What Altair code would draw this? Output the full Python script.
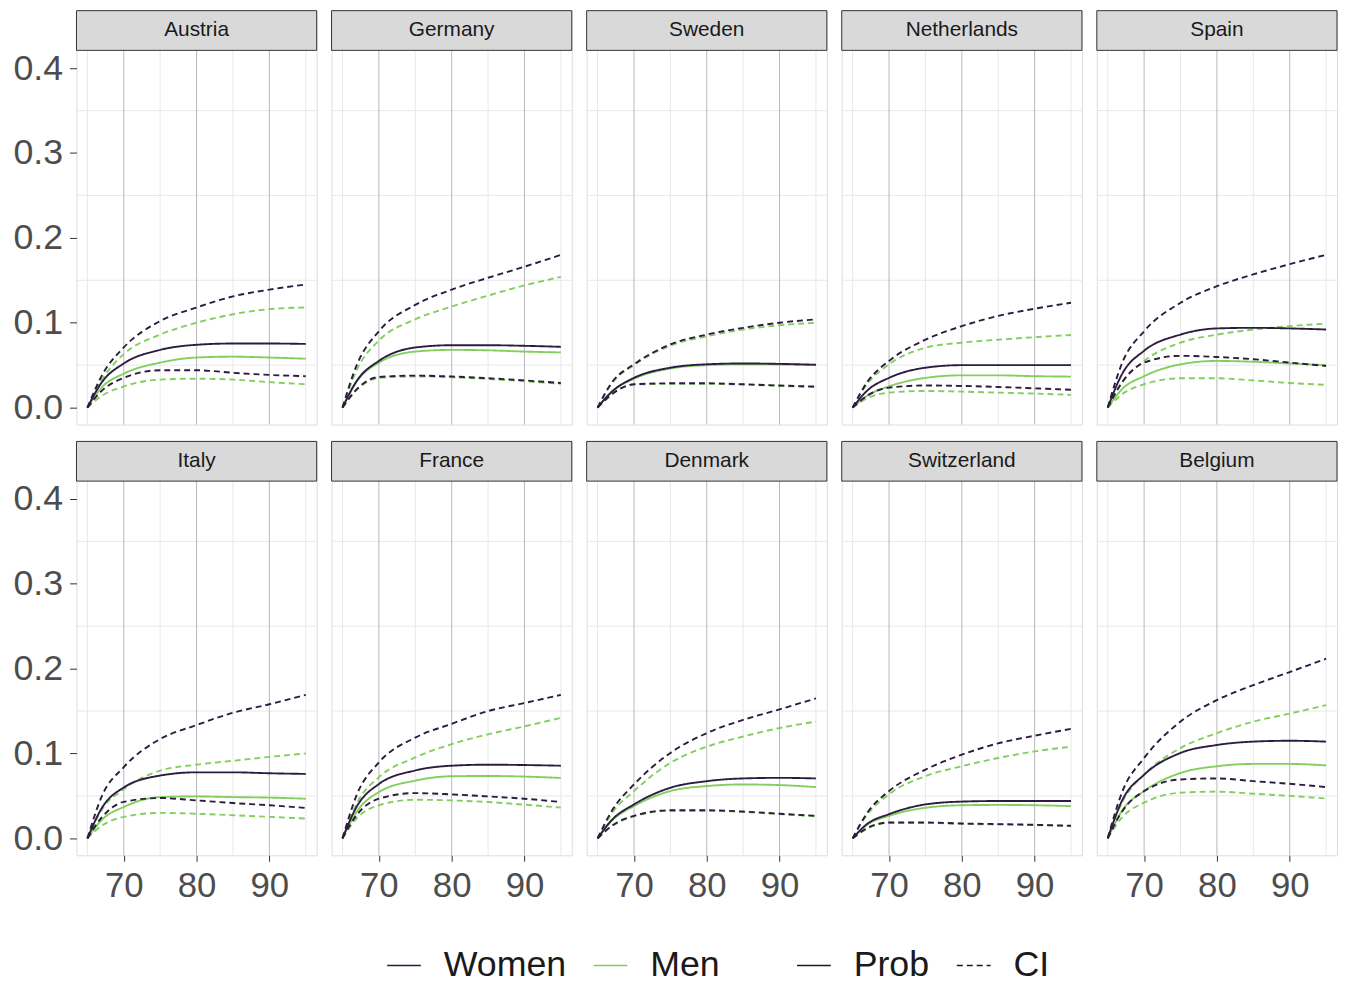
import altair as alt
import pandas as pd

# ---------------- data ----------------
AGES = [65, 67, 70, 75, 80, 85, 90, 95]
COUNTRIES = ["Austria", "Germany", "Sweden", "Netherlands", "Spain",
             "Italy", "France", "Denmark", "Switzerland", "Belgium"]

WOMEN_PROB = {
    "Austria":     [0, 0.030, 0.052, 0.068, 0.074, 0.0755, 0.0755, 0.075],
    "Germany":     [0, 0.032, 0.055, 0.0708, 0.0735, 0.0735, 0.0728, 0.0716],
    "Sweden":      [0, 0.019, 0.035, 0.047, 0.051, 0.052, 0.0515, 0.0505],
    "Netherlands": [0, 0.020, 0.035, 0.047, 0.050, 0.050, 0.050, 0.050],
    "Spain":       [0, 0.040, 0.067, 0.086, 0.0933, 0.094, 0.0933, 0.092],
    "Italy":       [0, 0.036, 0.060, 0.074, 0.0778, 0.0778, 0.0767, 0.0759],
    "France":      [0, 0.038, 0.064, 0.080, 0.0856, 0.0868, 0.0864, 0.0856],
    "Denmark":     [0, 0.022, 0.040, 0.0596, 0.0674, 0.0706, 0.0713, 0.0706],
    "Switzerland": [0, 0.017, 0.0285, 0.040, 0.0433, 0.044, 0.044, 0.044],
    "Belgium":     [0, 0.045, 0.075, 0.1006, 0.110, 0.114, 0.115, 0.114],
}
WOMEN_LO = {
    "Austria":     [0, 0.020, 0.035, 0.044, 0.044, 0.041, 0.0385, 0.037],
    "Germany":     [0, 0.022, 0.036, 0.0377, 0.0366, 0.0346, 0.032, 0.029],
    "Sweden":      [0, 0.016, 0.0275, 0.0286, 0.0286, 0.0275, 0.026, 0.0247],
    "Netherlands": [0, 0.014, 0.0235, 0.026, 0.0255, 0.0243, 0.0227, 0.021],
    "Spain":       [0, 0.030, 0.053, 0.061, 0.0596, 0.057, 0.053, 0.049],
    "Italy":       [0, 0.025, 0.043, 0.0475, 0.0447, 0.0416, 0.039, 0.0358],
    "France":      [0, 0.028, 0.0467, 0.0533, 0.0518, 0.0494, 0.0467, 0.0428],
    "Denmark":     [0, 0.015, 0.0265, 0.0331, 0.0331, 0.0316, 0.029, 0.0265],
    "Switzerland": [0, 0.012, 0.0187, 0.0187, 0.0175, 0.0168, 0.016, 0.0148],
    "Belgium":     [0, 0.032, 0.0557, 0.0694, 0.0706, 0.0674, 0.0643, 0.0604],
}
WOMEN_HI = {
    "Austria":     [0, 0.038, 0.071, 0.102, 0.118, 0.131, 0.139, 0.145],
    "Germany":     [0, 0.051, 0.090, 0.121, 0.139, 0.153, 0.166, 0.180],
    "Sweden":      [0, 0.030, 0.051, 0.0745, 0.086, 0.094, 0.100, 0.104],
    "Netherlands": [0, 0.030, 0.055, 0.080, 0.096, 0.108, 0.1165, 0.1235],
    "Spain":       [0, 0.053, 0.090, 0.1235, 0.143, 0.157, 0.169, 0.180],
    "Italy":       [0, 0.050, 0.084, 0.117, 0.1335, 0.148, 0.158, 0.169],
    "France":      [0, 0.052, 0.0895, 0.1187, 0.135, 0.150, 0.1595, 0.169],
    "Denmark":     [0, 0.033, 0.0635, 0.1006, 0.124, 0.1396, 0.152, 0.165],
    "Switzerland": [0, 0.030, 0.0557, 0.081, 0.0986, 0.112, 0.121, 0.129],
    "Belgium":     [0, 0.055, 0.0947, 0.1376, 0.163, 0.1805, 0.196, 0.2117],
}
MEN_PROB = {
    "Austria":     [0, 0.024, 0.040, 0.053, 0.059, 0.060, 0.059, 0.0576],
    "Germany":     [0, 0.031, 0.053, 0.066, 0.068, 0.0675, 0.066, 0.065],
    "Sweden":      [0, 0.019, 0.034, 0.046, 0.050, 0.051, 0.0508, 0.050],
    "Netherlands": [0, 0.014, 0.025, 0.035, 0.038, 0.038, 0.037, 0.0365],
    "Spain":       [0, 0.022, 0.037, 0.051, 0.055, 0.054, 0.052, 0.050],
    "Italy":       [0, 0.022, 0.037, 0.0486, 0.0494, 0.0486, 0.048, 0.0467],
    "France":      [0, 0.032, 0.0545, 0.068, 0.0732, 0.0735, 0.0728, 0.0712],
    "Denmark":     [0, 0.021, 0.038, 0.0557, 0.0616, 0.0635, 0.0628, 0.0604],
    "Switzerland": [0, 0.016, 0.0265, 0.036, 0.039, 0.0394, 0.039, 0.038],
    "Belgium":     [0, 0.033, 0.0557, 0.077, 0.085, 0.0877, 0.0877, 0.086],
}
MEN_LO = {
    "Austria":     [0, 0.014, 0.025, 0.033, 0.034, 0.033, 0.030, 0.0275],
    "Germany":     [0, 0.021, 0.035, 0.0367, 0.0356, 0.0336, 0.031, 0.028],
    "Sweden":      [0, 0.016, 0.027, 0.028, 0.028, 0.027, 0.0255, 0.0242],
    "Netherlands": [0, 0.011, 0.0176, 0.0196, 0.0188, 0.0176, 0.0165, 0.015],
    "Spain":       [0, 0.016, 0.0275, 0.0345, 0.0345, 0.032, 0.029, 0.0267],
    "Italy":       [0, 0.015, 0.0253, 0.030, 0.029, 0.0272, 0.0253, 0.0233],
    "France":      [0, 0.024, 0.039, 0.0455, 0.0447, 0.0428, 0.0397, 0.0362],
    "Denmark":     [0, 0.0145, 0.026, 0.0325, 0.0325, 0.031, 0.0285, 0.026],
    "Switzerland": [0, 0.0115, 0.0182, 0.0182, 0.017, 0.0163, 0.0155, 0.0143],
    "Belgium":     [0, 0.025, 0.042, 0.0538, 0.055, 0.0526, 0.050, 0.047],
}
MEN_HI = {
    "Austria":     [0, 0.033, 0.063, 0.086, 0.100, 0.110, 0.116, 0.118],
    "Germany":     [0, 0.045, 0.079, 0.104, 0.119, 0.132, 0.144, 0.154],
    "Sweden":      [0, 0.029, 0.050, 0.073, 0.084, 0.092, 0.097, 0.100],
    "Netherlands": [0, 0.028, 0.051, 0.0705, 0.0765, 0.080, 0.083, 0.0855],
    "Spain":       [0, 0.030, 0.055, 0.0765, 0.086, 0.092, 0.096, 0.099],
    "Italy":       [0, 0.034, 0.058, 0.0798, 0.0868, 0.0914, 0.096, 0.100],
    "France":      [0, 0.042, 0.072, 0.0953, 0.111, 0.1226, 0.132, 0.142],
    "Denmark":     [0, 0.030, 0.0557, 0.089, 0.108, 0.120, 0.130, 0.1376],
    "Switzerland": [0, 0.028, 0.052, 0.0733, 0.085, 0.0947, 0.1025, 0.108],
    "Belgium":     [0, 0.043, 0.075, 0.1064, 0.124, 0.1376, 0.147, 0.157],
}

X_MAJOR = [70, 80, 90]
X_MINOR = [65, 75, 85, 95]
Y_TICKS = [0.0, 0.1, 0.2, 0.3, 0.4]
Y_MINOR = [0.05, 0.15, 0.25, 0.35]
SEXES = ["Women", "Men"]
KINDS = ["Prob", "CI"]

# ---------------- styling ----------------
COLORS = ["#2d1b40", "#82cf5e"]
DASHES = [[1, 0], [6, 4]]
FONT = "Liberation Sans"
W = 242
H_PLOT = 377
STRIP = 40
H = H_PLOT + STRIP
X_DOMAIN = [63.5, 96.5]
Y_LO, Y_TOP = -0.02, 0.421
Y_HI = Y_LO + (Y_TOP - Y_LO) * H / H_PLOT


def long_table(country):
    rows = []
    for sex, parts in (("Men", (("lo", MEN_LO), ("hi", MEN_HI), ("prob", MEN_PROB))),
                       ("Women", (("lo", WOMEN_LO), ("hi", WOMEN_HI), ("prob", WOMEN_PROB)))):
        for key, src in parts:
            kind = "Prob" if key == "prob" else "CI"
            for a, v in zip(AGES, src[country]):
                rows.append({"age": a, "value": v, "sex": sex, "kind": kind,
                             "series": sex + "-" + key})
    return pd.DataFrame(rows)


def legend(x, extra=None):
    opts = dict(title=None, orient="none", direction="horizontal",
                legendX=x, legendY=944, symbolType="stroke", symbolSize=1156,
                symbolStrokeWidth=1.5, labelFontSize=36, labelFont=FONT,
                labelColor="#1a1a1a", labelOffset=22, columnPadding=24)
    if extra:
        opts.update(extra)
    return alt.Legend(**opts)


def panel(i, country):
    show_y = i % 5 == 0
    show_x = i >= 5
    xs = alt.Scale(domain=X_DOMAIN, nice=False, zero=False)
    ys = alt.Scale(domain=[Y_LO, Y_HI], nice=False, zero=False)
    if show_x:
        xax = alt.Axis(values=X_MAJOR, grid=False, domain=False, title=None,
                       labelFontSize=35, labelColor="#4d4d4d", labelFont=FONT,
                       tickColor="#333333", tickSize=6, labelPadding=7,
                       labelFlush=False, format="d")
    else:
        xax = None
    if show_y:
        yax = alt.Axis(values=Y_TICKS, grid=False, domain=False, title=None,
                       labelFontSize=36, labelColor="#4d4d4d", labelFont=FONT,
                       tickColor="#333333", tickSize=7, labelPadding=7,
                       labelFlush=False, format=".1f")
    else:
        yax = None

    vminor = alt.Chart(pd.DataFrame({"age": X_MINOR})).mark_rule(
        color="#e8e8e8", strokeWidth=1).encode(x=alt.X("age:Q", scale=xs, axis=xax))
    hminor = alt.Chart(pd.DataFrame({"value": Y_MINOR})).mark_rule(
        color="#e8e8e8", strokeWidth=1).encode(y=alt.Y("value:Q", scale=ys, axis=yax))
    vmajor = alt.Chart(pd.DataFrame({"age": X_MAJOR})).mark_rule(
        color="#b8b8b8", strokeWidth=1).encode(x=alt.X("age:Q", scale=xs, axis=xax))

    lines = alt.Chart(long_table(country)).mark_line(
        strokeWidth=1.9, interpolate="monotone").encode(
        x=alt.X("age:Q", scale=xs, axis=xax),
        y=alt.Y("value:Q", scale=ys, axis=yax),
        color=alt.Color("sex:N", scale=alt.Scale(domain=SEXES, range=COLORS),
                        legend=legend(312)),
        strokeDash=alt.StrokeDash("kind:N", scale=alt.Scale(domain=KINDS, range=DASHES),
                                  legend=legend(725, {"symbolStrokeColor": "#1a1a1a",
                                                      "symbolDash": [4, 3]})),
        detail="series:N",
    )

    strip_df = pd.DataFrame({"country": [country]})
    strip = alt.Chart(strip_df).mark_rect(
        fill="#d9d9d9", stroke="#333333", strokeWidth=1).encode(
        x=alt.value(0), x2=alt.value(W), y=alt.value(0), y2=alt.value(STRIP))
    label = alt.Chart(strip_df).mark_text(
        fontSize=21, font=FONT, color="#1a1a1a", baseline="middle", align="center").encode(
        x=alt.value(W / 2), y=alt.value(STRIP / 2), text="country:N")

    return alt.layer(vminor, hminor, vmajor, lines, strip, label).properties(width=W, height=H)


panels = [panel(i, c) for i, c in enumerate(COUNTRIES)]
row1 = alt.hconcat(*panels[:5], spacing=13)
row2 = alt.hconcat(*panels[5:], spacing=13)

chart = alt.vconcat(row1, row2, spacing=14).properties(
    padding={"left": 4, "top": -2, "right": 0, "bottom": 0}
).configure_view(
    stroke="#333333", strokeWidth=1
).configure(background="white")

chart.save("out.html", embed_options={"renderer": "svg", "actions": False})
